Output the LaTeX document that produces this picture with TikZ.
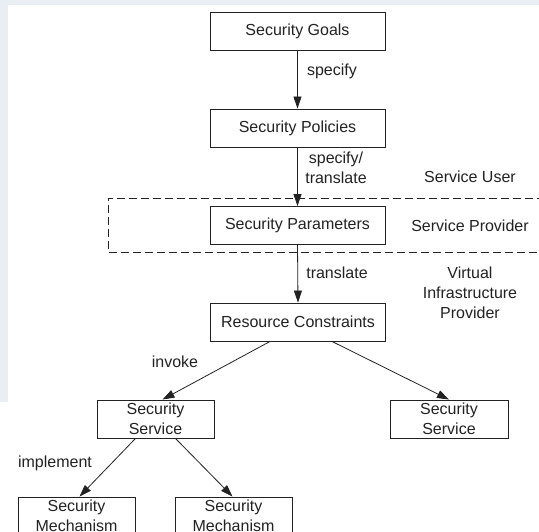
\documentclass[tikz,border=0pt]{standalone}
\usepackage{fontspec}
\setmainfont{Liberation Sans}
\usetikzlibrary{arrows.meta,calc}
\definecolor{ink}{HTML}{222222}
\definecolor{haze}{HTML}{E8EEF3}
\begin{document}
\begin{tikzpicture}[x=1pt,y=-1pt,
  font=\fontsize{16}{20}\selectfont,
  every node/.style={text=ink},
  bigbox/.style={draw=ink,line width=0.9pt,minimum width=175pt,minimum height=38pt,inner sep=0pt},
  smallbox/.style={draw=ink,line width=0.9pt,minimum width=117pt,minimum height=38pt,inner sep=0pt,align=center},
  lbl/.style={inner sep=0pt,align=center},
  conn/.style={draw=ink,line width=0.8pt,-{Triangle[length=12pt,width=8pt]}}]
\useasboundingbox (0,0) rectangle (539,532);
\fill[white] (0,0) rectangle (539,532);
\fill[haze] (0,0) rectangle (539,5);
\fill[haze] (0,0) rectangle (8,402);
\begin{scope}
\clip (0,0) rectangle (539,532);
\node[bigbox] (goals) at (297.5,31) {Security Goals};
\node[bigbox] (policies) at (297.5,128) {Security Policies};
\node[bigbox] (params) at (297.5,225.5) {Security Parameters};
\node[bigbox] (resource) at (298,322) {Resource Constraints};
\node[smallbox] (ssL) at (155.5,419) {Security\\Service};
\node[smallbox,minimum width=118pt] (ssR) at (449,419) {Security\\Service};
\node[smallbox] (mechL) at (76.5,516) {Security\\Mechanism};
\node[smallbox] (mechR) at (233.5,516) {Security\\Mechanism};
\draw[draw=ink,line width=0.8pt,dash pattern=on 8pt off 4pt] (545,198) -- (108,198) -- (108,252) -- (545,252);
\end{scope}
\draw[conn] (goals.south) -- (policies.north);
\draw[conn] (policies.south) -- (params.north);
\draw[conn] (params.south) -- (resource.north);
\draw[conn] ($(resource.south)+(-28,0)$) -- ($(ssL.north)+(7,0)$);
\draw[conn] ($(resource.south)+(34,0)$) -- (ssR.north);
\draw[conn] ($(ssL.south)+(-20,0)$) -- ($(mechL.north)+(3,0)$);
\draw[conn] ($(ssL.south)+(20,0)$) -- ($(mechR.north)+(-1,0)$);
\node[lbl] (l1) at (332,71) {specify};
\node[lbl] (l2) at (336,167.5) {specify/\\translate};
\node[lbl] (l3) at (470,177) {Service User};
\node[lbl] (l4) at (470,226) {Service Provider};
\node[lbl] (l5) at (337,273) {translate};
\node[lbl] (l6) at (470,293) {Virtual\\Infrastructure\\Provider};
\node[lbl] (l7) at (175,362) {invoke};
\node[lbl] (l8) at (55,463) {implement};
\end{tikzpicture}
\end{document}
